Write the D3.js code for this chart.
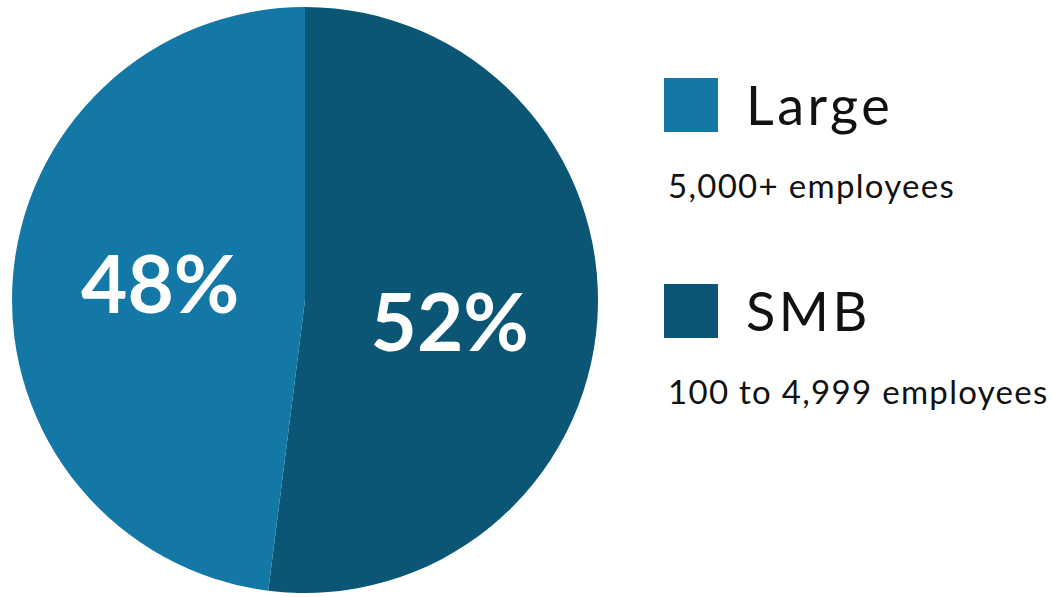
<!DOCTYPE html>
<html>
<head>
<meta charset="utf-8">
<script src="https://cdn.jsdelivr.net/npm/d3@7"></script>
<style>
  body { margin: 0; background: #fff; }
  svg { display: block; }
</style>
</head>
<body>
<svg id="chart" width="1054" height="597"></svg>
<script>
// data
var segments = ["SMB", "Large"];
var shares = [52, 48];
var subLabels = ["100 to 4,999 employees", "5,000+ employees"];
var colors = ["#0b5675", "#1378a5"];
var legendOrder = ["Large", "SMB"];

var svg = d3.select("#chart");
var cx = 305, cy = 300, r = 293;

var pie = d3.pie().sort(null).value(function(d, i) { return shares[i]; });
var arcs = pie(segments);
var arc = d3.arc().innerRadius(0).outerRadius(r);
var labelArc = d3.arc().innerRadius(0).outerRadius(r * 0.99);

var color = d3.scaleOrdinal().domain(segments).range(colors);

var g = svg.append("g").attr("transform", "translate(" + cx + "," + cy + ")");

g.selectAll("path.slice")
    .data(arcs)
    .enter().append("path")
    .attr("class", "slice")
    .attr("d", arc)
    .attr("fill", function(d) { return color(d.data); });

// labels sit a bit further apart vertically than the plain centroid
g.selectAll("text.pct")
    .data(arcs)
    .enter().append("text")
    .attr("class", "pct")
    .attr("transform", function(d) {
        var c = labelArc.centroid(d);
        return "translate(" + c[0] + "," + (c[1] * 2.1 + 3) + ")";
    })
    .attr("text-anchor", "middle")
    .attr("dy", "0.36em")
    .attr("fill", "#fff")
    .style("font-family", "Lato, 'Noto Sans', sans-serif")
    .style("font-weight", 700)
    .style("font-size", "80px")
    .text(function(d) { return shares[d.index] + "%"; });

// legend
var legendY = d3.scalePoint().domain(legendOrder).range([78, 284]);

var leg = svg.selectAll("g.legend")
    .data(legendOrder)
    .enter().append("g")
    .attr("class", "legend")
    .attr("transform", function(d) { return "translate(664," + legendY(d) + ")"; });

leg.append("rect")
    .attr("width", 54)
    .attr("height", 54)
    .attr("fill", function(d) { return color(d); });

leg.append("text")
    .attr("x", 82)
    .attr("y", 47)
    .attr("fill", "#111")
    .style("font-family", "Lato, 'Noto Sans', sans-serif")
    .style("font-weight", 400)
    .style("font-size", "54px")
    .style("letter-spacing", "3.5px")
    .text(function(d) { return d; });

leg.append("text")
    .attr("x", 4)
    .attr("y", 120)
    .attr("fill", "#111")
    .style("font-family", "Lato, 'Noto Sans', sans-serif")
    .style("font-weight", 400)
    .style("font-size", "33px")
    .style("letter-spacing", "1.3px")
    .text(function(d) { return subLabels[segments.indexOf(d)]; });
</script>
</body>
</html>
